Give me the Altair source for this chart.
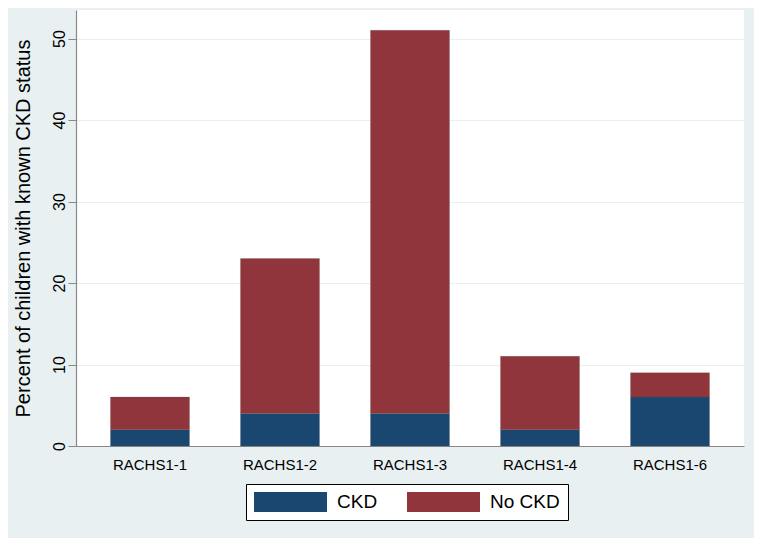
import altair as alt
import pandas as pd

categories = ["RACHS1-1", "RACHS1-2", "RACHS1-3", "RACHS1-4", "RACHS1-6"]
ckd = [2, 4, 4, 2, 6]
no_ckd = [4, 19, 47, 9, 3]
series = ["CKD", "No CKD"]
colors = ["#1A476F", "#90353B"]
y_ticks = [0, 10, 20, 30, 40, 50]

rows = []
for c, a, b in zip(categories, ckd, no_ckd):
    rows.append({"cat": c, "status": "CKD", "value": a, "ord": 0})
    rows.append({"cat": c, "status": "No CKD", "value": b, "ord": 1})
df = pd.DataFrame(rows)

font = "Liberation Sans"
bg = "#E8F0F2"

chart = alt.Chart(df).mark_bar(stroke="#555555", strokeWidth=0.5, strokeOpacity=0.4).encode(
    x=alt.X("cat:N", sort=categories, title=None,
            scale=alt.Scale(paddingInner=0.392, paddingOuter=0.265),
            axis=alt.Axis(labelAngle=0, labelFontSize=15, labelFont=font, labelColor="#000000",
                          ticks=False, labelPadding=11, domainColor="#888888", domainWidth=1.2)),
    y=alt.Y("value:Q", stack="zero", title="Percent of children with known CKD status",
            scale=alt.Scale(domain=[0, 53.5], nice=False, zero=True),
            axis=alt.Axis(values=y_ticks, labelAngle=270, labelAlign="center", labelBaseline="bottom",
                          labelFontSize=16, labelFont=font, labelColor="#000000", labelPadding=1,
                          tickSize=8, tickColor="#888888", domainColor="#888888", domainWidth=1.2,
                          grid=True, gridColor=bg, gridWidth=1.2,
                          titleFont=font, titleFontSize=20, titleFontWeight="normal",
                          titleColor="#000000", titlePadding=18)),
    color=alt.Color("status:N", scale=alt.Scale(domain=series, range=colors),
                    legend=alt.Legend(orient="none", legendX=170, legendY=474, direction="horizontal",
                                      title=None, symbolType="M-1,-1H6.3V1H-1Z", symbolSize=400,
                                      symbolStrokeWidth=0, symbolOpacity=1,
                                      labelOffset=63, labelFontSize=19, labelFont=font,
                                      labelColor="#000000", columnPadding=29, padding=8,
                                      strokeColor="#000000", fillColor="#FFFFFF")),
    order=alt.Order("ord:Q", sort="ascending"),
).properties(
    width=668, height=436,
    background=bg,
    padding={"left": 68, "top": 2, "right": 10, "bottom": 92},
    autosize=alt.AutoSizeParams(type="none"),
).configure_view(fill="#FFFFFF", stroke=None)

chart.save("out.html", embed_options={"renderer": "svg", "actions": False})
